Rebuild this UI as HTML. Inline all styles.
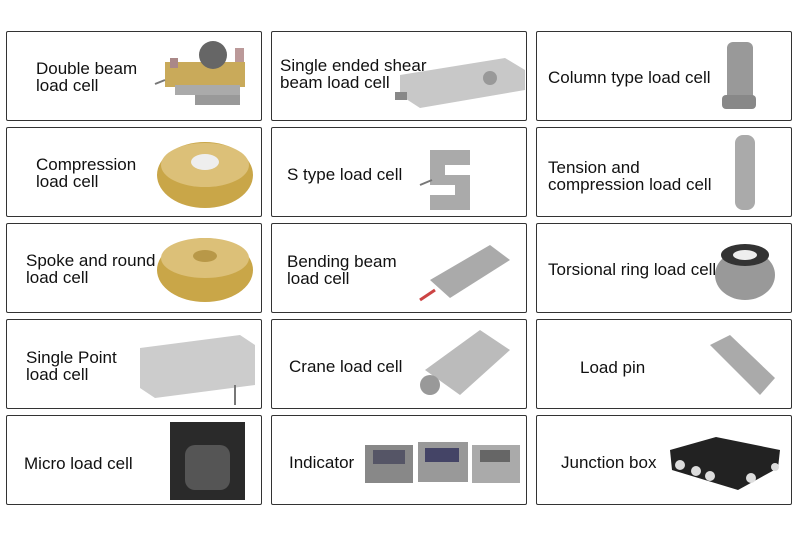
<!DOCTYPE html>
<html><head><style>
body{margin:0;width:800px;height:559px;background:#fff;position:relative;overflow:hidden;font-family:"Liberation Sans",Arial,sans-serif;}
.c{position:absolute;width:254px;height:88px;border:1.5px solid #333;border-radius:2px;box-sizing:content-box;}
.t{position:absolute;font-size:17px;line-height:17px;color:#111;white-space:nowrap;}
.s{position:absolute;}
</style></head><body>
<div class="c" style="left:6px;top:31px"></div>
<div class="c" style="left:271px;top:31px"></div>
<div class="c" style="left:536px;top:31px"></div>
<div class="c" style="left:6px;top:127px"></div>
<div class="c" style="left:271px;top:127px"></div>
<div class="c" style="left:536px;top:127px"></div>
<div class="c" style="left:6px;top:223px"></div>
<div class="c" style="left:271px;top:223px"></div>
<div class="c" style="left:536px;top:223px"></div>
<div class="c" style="left:6px;top:319px"></div>
<div class="c" style="left:271px;top:319px"></div>
<div class="c" style="left:536px;top:319px"></div>
<div class="c" style="left:6px;top:415px"></div>
<div class="c" style="left:271px;top:415px"></div>
<div class="c" style="left:536px;top:415px"></div>

<div class="t" style="left:36px;top:60px">Double beam<br>load cell</div>
<div class="t" style="left:280px;top:57px">Single ended shear<br>beam load cell</div>
<div class="t" style="left:548px;top:69px">Column type load cell</div>
<div class="t" style="left:36px;top:156px">Compression<br>load cell</div>
<div class="t" style="left:287px;top:166px">S type load cell</div>
<div class="t" style="left:548px;top:159px">Tension and<br>compression load cell</div>
<div class="t" style="left:26px;top:252px">Spoke and round<br>load cell</div>
<div class="t" style="left:287px;top:253px">Bending beam<br>load cell</div>
<div class="t" style="left:548px;top:261px">Torsional ring load cell</div>
<div class="t" style="left:26px;top:349px">Single Point<br>load cell</div>
<div class="t" style="left:289px;top:358px">Crane load cell</div>
<div class="t" style="left:580px;top:359px">Load pin</div>
<div class="t" style="left:24px;top:455px">Micro load cell</div>
<div class="t" style="left:289px;top:454px">Indicator</div>
<div class="t" style="left:561px;top:454px">Junction box</div>

<svg class="s" style="left:0;top:0" width="800" height="559">
<rect x="165" y="62" width="80" height="25" fill="#c9aa5a"/>
<rect x="175" y="85" width="65" height="10" fill="#aaa"/>
<rect x="195" y="95" width="45" height="10" fill="#999"/>
<circle cx="213" cy="55" r="14" fill="#666"/>
<rect x="170" y="58" width="8" height="10" fill="#a88"/><rect x="235" y="48" width="9" height="14" fill="#b99"/>
<line x1="155" y1="84" x2="165" y2="80" stroke="#777" stroke-width="2"/>
<polygon points="400,75 505,58 525,70 525,90 420,108 400,95" fill="#c8c8c8"/>
<circle cx="490" cy="78" r="7" fill="#999"/>
<rect x="395" y="92" width="12" height="8" fill="#888"/>
<rect x="727" y="42" width="26" height="60" rx="6" fill="#999"/>
<rect x="722" y="95" width="34" height="14" rx="4" fill="#888"/>
<ellipse cx="205" cy="175" rx="48" ry="33" fill="#c9a648"/>
<ellipse cx="205" cy="165" rx="44" ry="22" fill="#dcc078"/>
<ellipse cx="205" cy="162" rx="14" ry="8" fill="#eee"/>
<path d="M430,150 h40 v15 h-25 v10 h25 v35 h-40 v-15 h25 v-10 h-25z" fill="#aaa"/>
<line x1="420" y1="185" x2="432" y2="180" stroke="#777" stroke-width="2"/>
<rect x="735" y="135" width="20" height="75" rx="8" fill="#aaa"/>
<ellipse cx="205" cy="270" rx="48" ry="32" fill="#c9a648"/>
<ellipse cx="205" cy="258" rx="44" ry="20" fill="#dcc078"/>
<ellipse cx="205" cy="256" rx="12" ry="6" fill="#b89848"/>
<polygon points="430,280 490,245 510,260 450,298" fill="#aaa"/>
<line x1="420" y1="300" x2="435" y2="290" stroke="#c44" stroke-width="3"/>
<ellipse cx="745" cy="275" rx="30" ry="25" fill="#999"/>
<ellipse cx="745" cy="255" rx="24" ry="11" fill="#333"/>
<ellipse cx="745" cy="255" rx="12" ry="5" fill="#eee"/>
<polygon points="140,348 240,335 255,345 255,385 155,398 140,388" fill="#ccc"/>
<line x1="235" y1="385" x2="235" y2="405" stroke="#777" stroke-width="2"/>
<polygon points="425,370 480,330 510,350 460,395" fill="#bbb"/>
<circle cx="430" cy="385" r="10" fill="#999"/>
<polygon points="710,345 730,335 775,378 760,395" fill="#aaa"/>
<rect x="170" y="422" width="75" height="78" fill="#2a2a2a"/>
<rect x="185" y="445" width="45" height="45" rx="10" fill="#555"/>
<rect x="365" y="445" width="48" height="38" fill="#888"/><rect x="373" y="450" width="32" height="14" fill="#556"/>
<rect x="418" y="442" width="50" height="40" fill="#999"/><rect x="425" y="448" width="34" height="14" fill="#446"/>
<rect x="472" y="445" width="48" height="38" fill="#aaa"/><rect x="480" y="450" width="30" height="12" fill="#666"/>
<polygon points="670,450 716,437 780,450 778,468 738,490 672,470" fill="#222"/>
<circle cx="680" cy="465" r="5" fill="#ddd"/><circle cx="696" cy="471" r="5" fill="#ddd"/><circle cx="710" cy="476" r="5" fill="#ddd"/><circle cx="751" cy="478" r="5" fill="#ddd"/><circle cx="775" cy="467" r="4" fill="#ddd"/>
</svg>
</body></html>
